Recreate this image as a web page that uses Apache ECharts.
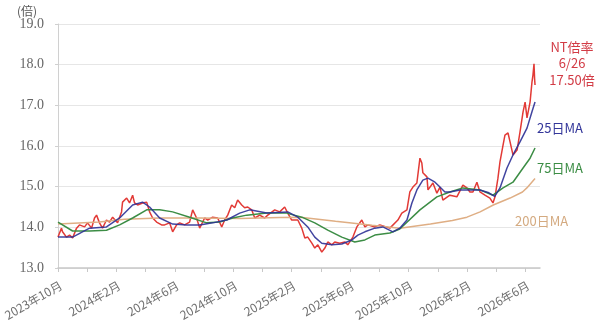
<!DOCTYPE html>
<html>
<head>
<meta charset="utf-8">
<script src="https://cdn.jsdelivr.net/npm/echarts@6.0.0/dist/echarts.min.js"></script>
<style>
  html, body { margin: 0; padding: 0; background: #fff; }
  #chart { width: 600px; height: 328px; }
</style>
</head>
<body>
<div id="chart"></div>
<script>
// x = months since 2023-10-01, y = ratio (倍)
const ntRatio = [
  [0,13.76],[0.24,13.98],[0.31,13.89],[0.58,13.76],[0.79,13.81],[1.0,13.74],[1.27,13.98],[1.47,14.06],
  [1.82,14.01],[2.02,14.11],[2.30,13.98],[2.50,14.23],[2.64,14.30],[2.84,14.11],[3.05,13.98],[3.32,14.18],
  [3.53,14.13],[3.74,14.25],[4.08,14.11],[4.35,14.38],[4.42,14.62],[4.70,14.72],[4.90,14.60],[5.11,14.79],
  [5.24,14.60],[5.45,14.55],[5.79,14.60],[6.07,14.62],[6.27,14.38],[6.48,14.23],[6.75,14.13],[7.09,14.06],
  [7.30,14.06],[7.64,14.11],[7.85,13.89],[8.12,14.06],[8.33,14.11],[8.67,14.06],[9.01,14.13],[9.22,14.43],
  [9.49,14.23],[9.70,13.98],[10.04,14.23],[10.25,14.18],[10.59,14.25],[10.93,14.23],[11.21,14.01],[11.41,14.18],
  [11.62,14.30],[11.89,14.55],[12.10,14.48],[12.30,14.67],[12.58,14.55],[12.78,14.48],[12.99,14.50],[13.26,14.43],
  [13.47,14.23],[13.81,14.30],[14.15,14.23],[14.36,14.30],[14.84,14.43],[15.18,14.38],[15.52,14.50],[15.73,14.35],
  [16.00,14.18],[16.42,14.18],[16.69,13.98],[16.90,13.74],[17.10,13.76],[17.38,13.61],[17.58,13.49],[17.79,13.57],
  [18.06,13.39],[18.27,13.49],[18.47,13.64],[18.75,13.57],[18.95,13.64],[19.29,13.61],[19.64,13.64],[19.84,13.57],
  [20.19,13.76],[20.46,14.01],[20.80,14.18],[21.01,14.01],[21.21,14.06],[21.69,14.01],[22.04,14.06],[22.72,13.98],
  [23.27,14.18],[23.54,14.35],[23.89,14.43],[24.09,14.87],[24.30,14.99],[24.57,15.09],[24.78,15.70],[24.91,15.58],
  [24.98,15.34],[25.26,15.24],[25.33,14.92],[25.67,15.09],[25.94,14.84],[26.15,14.99],[26.35,14.67],[26.83,14.79],
  [27.31,14.75],[27.72,15.04],[28.00,14.97],[28.20,14.87],[28.41,14.87],[28.68,15.11],[28.89,14.87],[29.23,14.79],
  [29.57,14.72],[29.78,14.60],[29.92,14.75],[30.12,15.21],[30.26,15.61],[30.47,16.02],[30.60,16.27],[30.81,16.32],
  [30.95,16.10],[31.15,15.78],[31.43,15.90],[31.63,16.34],[31.84,16.84],[31.98,17.08],[32.11,16.69],[32.32,17.08],
  [32.45,17.57],[32.52,17.75],[32.59,18.02],[32.63,17.65],[32.66,17.50]
]

const ma25 = [
  [0,13.76],[1.0,13.76],[2.16,13.98],[3.32,14.01],[4.22,14.23],[5.11,14.55],[5.79,14.62],[6.27,14.50],
  [6.96,14.23],[7.85,14.08],[8.81,14.06],[9.70,14.06],[10.59,14.11],[11.55,14.18],[12.44,14.35],[13.13,14.43],
  [14.29,14.35],[15.73,14.38],[16.42,14.25],[17.10,14.01],[17.58,13.76],[18.06,13.61],[18.75,13.57],[19.43,13.59],
  [20.12,13.69],[20.53,13.81],[21.01,13.89],[21.69,13.98],[22.24,14.01],[22.93,13.89],[23.40,13.98],[23.89,14.18],
  [24.23,14.60],[24.57,14.92],[24.98,15.16],[25.33,15.21],[25.81,15.11],[26.15,14.99],[26.49,14.87],[26.83,14.87],
  [27.52,14.92],[28.00,14.92],[28.89,14.92],[29.50,14.85],[29.90,14.76],[30.26,14.97],[30.74,15.46],[31.15,15.78],
  [31.63,16.10],[32.11,16.44],[32.45,16.84],[32.66,17.08]
]

const ma75 = [
  [0,14.13],[1.0,13.91],[2.16,13.91],[3.32,13.93],[4.22,14.06],[5.11,14.23],[6.07,14.43],[6.96,14.43],
  [7.85,14.38],[9.01,14.25],[10.18,14.11],[11.07,14.13],[11.96,14.23],[12.92,14.30],[14.29,14.35],[15.66,14.35],
  [16.69,14.25],[17.58,14.11],[18.47,13.93],[19.43,13.76],[20.32,13.64],[21.01,13.69],[21.69,13.81],[22.72,13.86],
  [23.40,13.96],[24.78,14.43],[25.94,14.75],[26.83,14.87],[27.72,14.97],[28.89,14.92],[29.78,14.79],[30.47,14.97],
  [31.15,15.11],[31.84,15.46],[32.32,15.70],[32.66,15.95]
]

const ma200 = [
  [0,14.08],[2.84,14.13],[4.56,14.20],[6.96,14.23],[9.70,14.23],[12.44,14.22],[15.18,14.24],[16.6,14.25],
  [19.0,14.15],[21.5,14.05],[23.4,13.98],[25.5,14.08],[27.0,14.17],[28.0,14.25],[28.9,14.38],[29.8,14.55],
  [30.95,14.72],[31.8,14.87],[32.1,14.97],[32.66,15.20]
]

const xTickMonths = [0,2,4,6,8,10,12,14,16,18,20,22,24,26,28,30,32]
const xLabelMonths = [0,4,8,12,16,20,24,28,32]

function monthLabel(v) {
  var idx = 9 + v  // 2023年10月 = 0
  var year = 2023 + Math.floor(idx / 12)
  var month = (idx % 12) + 1
  return year + '年' + month + '月'
}

var myChart = echarts.init(document.getElementById('chart'))
var jp = '"Noto Sans CJK JP", sans-serif'

var option = {
  animation: false,
  grid: { left: 58, right: 60, top: 24, bottom: 60 },
  xAxis: {
    type: 'value',
    min: 0,
    max: 33,
    axisLine: { lineStyle: { color: '#c8c8c8', width: 1.5 } },
    axisTick: { customValues: xTickMonths, length: 4, lineStyle: { color: '#c8c8c8' } },
    axisLabel: {
      customValues: xLabelMonths,
      formatter: monthLabel,
      rotate: 30,
      margin: 11,
      verticalAlign: 'top',
      fontSize: 12,
      color: '#707070',
      fontFamily: jp
    },
    splitLine: { show: false }
  },
  yAxis: {
    type: 'value',
    min: 13,
    max: 19,
    interval: 1,
    axisLine: { show: true, lineStyle: { color: '#d0d0d0' } },
    axisTick: { show: true, length: 3, lineStyle: { color: '#d0d0d0' } },
    axisLabel: {
      formatter: function (v) { return v.toFixed(1) },
      fontSize: 14,
      color: '#666',
      margin: 14,
      fontFamily: '"Liberation Serif", serif'
    },
    splitLine: { lineStyle: { color: '#e6e6e6' } }
  },
  series: [
    {
      name: 'NT倍率', type: 'line', data: ntRatio, showSymbol: false,
      lineStyle: { color: '#e23a36', width: 1.5 }, z: 2
    },
    {
      name: '200日MA', type: 'line', data: ma200, showSymbol: false,
      lineStyle: { color: '#dfae84', width: 1.5 }, z: 3
    },
    {
      name: '75日MA', type: 'line', data: ma75, showSymbol: false,
      lineStyle: { color: '#3c8d45', width: 1.5 }, z: 4
    },
    {
      name: '25日MA', type: 'line', data: ma25, showSymbol: false,
      lineStyle: { color: '#2e3196', width: 1.5, opacity: 0.9 }, z: 5
    }
  ],
  graphic: [
    { type: 'text', x: 17, y: 11, style: { text: '(倍)', font: '12px ' + jp, fill: '#555', textVerticalAlign: 'middle' } },
    { type: 'text', x: 572, y: 47, style: { text: 'NT倍率', font: '13px ' + jp, fill: '#d23b45', textAlign: 'center', textVerticalAlign: 'middle' } },
    { type: 'text', x: 572, y: 63, style: { text: '6/26', font: '13px ' + jp, fill: '#d23b45', textAlign: 'center', textVerticalAlign: 'middle' } },
    { type: 'text', x: 572, y: 80, style: { text: '17.50倍', font: '13px ' + jp, fill: '#d23b45', textAlign: 'center', textVerticalAlign: 'middle' } },
    { type: 'text', x: 537, y: 128, style: { text: '25日MA', font: '13px ' + jp, fill: '#34379a', textVerticalAlign: 'middle' } },
    { type: 'text', x: 537, y: 168, style: { text: '75日MA', font: '13px ' + jp, fill: '#3c8d45', textVerticalAlign: 'middle' } },
    { type: 'text', x: 515, y: 221, style: { text: '200日MA', font: '13px ' + jp, fill: '#d4aa80', textVerticalAlign: 'middle' } }
  ]
}
myChart.setOption(option)
window.addEventListener('resize', function () {
  myChart.resize()
})
</script>
</body>
</html>
